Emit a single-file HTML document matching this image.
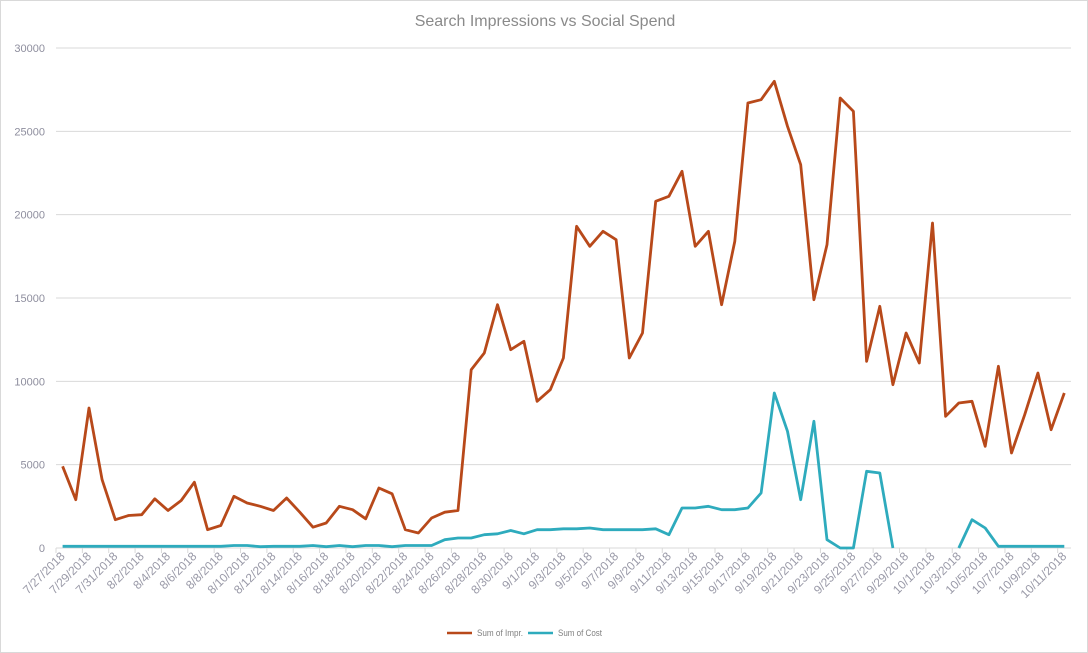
<!DOCTYPE html>
<html><head><meta charset="utf-8"><style>
html,body{margin:0;padding:0;background:#fff;}
svg{display:block;font-family:"Liberation Sans",sans-serif;}
</style></head><body>
<svg id="c" width="1088" height="653" xmlns="http://www.w3.org/2000/svg"></svg>
<script>
const imp=[4900,2900,8400,4100,1700,1950,2000,2950,2250,2850,3950,1100,1350,3100,2700,2500,2250,3000,2150,1250,1500,2500,2300,1750,3600,3250,1100,900,1800,2150,2250,10700,11700,14600,11900,12400,8800,9500,11400,19300,18100,19000,18500,11400,12900,20800,21100,22600,18100,19000,14600,18400,26700,26900,28000,25300,23000,14900,18200,27000,26200,11200,14500,9800,12900,11100,19500,7900,8700,8800,6100,10900,5700,8000,10500,7100,9300];
const cost=[100,100,100,100,100,100,100,100,100,100,100,100,100,150,150,80,100,100,100,150,80,150,80,150,150,80,150,150,150,500,600,600,800,850,1050,850,1100,1100,1150,1150,1200,1100,1100,1100,1100,1150,800,2400,2400,2500,2300,2300,2400,3300,9300,7000,2900,7600,500,0,0,4600,4500,0,null,null,null,null,0,1700,1200,100,100,100,100,100,100];
const X0=56,DW=13.18,Y0=548,S=500/30000;
const px=i=>X0+DW*(i+0.5), py=v=>Y0-v*S;
let s='<rect x="0.5" y="0.5" width="1087" height="652" fill="#fff" stroke="#d9d9d9"/>';
s+='<text x="545" y="26" text-anchor="middle" font-size="16" fill="#8a8a8a">Search Impressions vs Social Spend</text>';
for(let k=0;k<=6;k++){const y=Y0-k*5000*S;s+=`<line x1="56" x2="1071" y1="${y}" y2="${y}" stroke="#d9d9d9"/>`;s+=`<text x="45" y="${y+4}" text-anchor="end" font-size="11" fill="#8e8e9e">${k*5000}</text>`;}
const start=new Date(2018,6,27);
for(let i=0;i<=77;i+=2){const x=X0+DW*i;s+=`<line x1="${x}" x2="${x}" y1="548" y2="553" stroke="#d9d9d9"/>`;}
for(let i=0;i<77;i+=2){const d=new Date(start.getTime()+i*86400000);const lab=(d.getMonth()+1)+'/'+d.getDate()+'/2018';const x=px(i)+3,y=557;s+=`<text transform="translate(${x},${y}) rotate(-45)" text-anchor="end" font-size="12" fill="#9a9aa8">${lab}</text>`;}
let p=imp.map((v,i)=>px(i).toFixed(1)+','+py(v).toFixed(1)).join(' ');
s+=`<polyline points="${p}" fill="none" stroke="#b8491a" stroke-width="2.8" stroke-linejoin="round"/>`;
let segs=[],cur=[];cost.forEach((v,i)=>{if(v===null){if(cur.length)segs.push(cur);cur=[];}else cur.push(px(i).toFixed(1)+','+py(v).toFixed(1));});if(cur.length)segs.push(cur);
segs.forEach(c=>{s+=`<polyline points="${c.join(' ')}" fill="none" stroke="#2eabbd" stroke-width="2.8" stroke-linejoin="round"/>`;});
s+='<line x1="447" x2="472" y1="633" y2="633" stroke="#b8491a" stroke-width="2.6"/><text x="477" y="636" font-size="9" textLength="46" lengthAdjust="spacingAndGlyphs" fill="#7f7f7f">Sum of Impr.</text>';
s+='<line x1="528" x2="553" y1="633" y2="633" stroke="#2eabbd" stroke-width="2.6"/><text x="558" y="636" font-size="9" textLength="44" lengthAdjust="spacingAndGlyphs" fill="#7f7f7f">Sum of Cost</text>';
document.getElementById('c').innerHTML=s;
</script>
</body></html>
